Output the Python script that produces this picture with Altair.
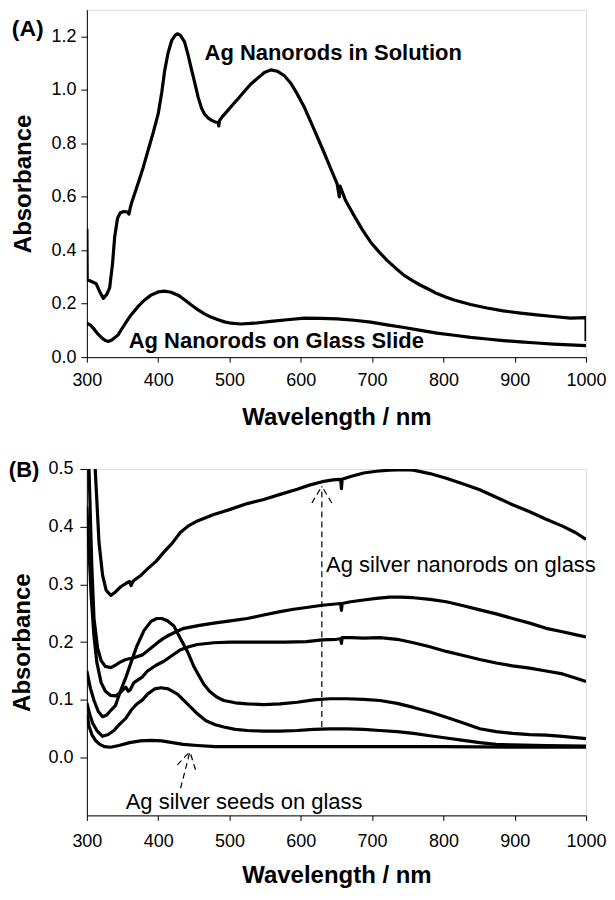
import altair as alt
import pandas as pd

FONT = "Liberation Sans"

# ---------------- Panel A data ----------------
sol_nm = [300, 300.5, 305, 313, 318, 323, 328, 332, 336, 339, 343, 347, 352, 357, 359, 361, 363, 368, 372,
          379, 386, 393, 400, 405, 409, 414, 419, 424, 427, 431, 437, 442, 446, 451, 456, 461, 465, 470,
          475, 480, 484, 485, 486, 490, 495, 503, 512, 521, 530, 540, 549, 558, 567, 577, 586, 595, 605,
          614, 623, 633, 642, 651, 654, 655, 663, 675, 686, 698, 710, 721, 733, 745, 756, 768, 780, 791,
          803, 815, 838, 861, 884, 908, 931, 954, 978, 990, 998, 1000, 1000]
sol_abs = [0.48, 0.29, 0.285, 0.275, 0.245, 0.22, 0.235, 0.26, 0.35, 0.45, 0.52, 0.54, 0.545, 0.543, 0.535,
           0.56, 0.58, 0.62, 0.652, 0.71, 0.775, 0.84, 0.91, 0.99, 1.07, 1.14, 1.185, 1.205, 1.21, 1.205,
           1.18, 1.13, 1.084, 1.03, 0.973, 0.93, 0.91, 0.895, 0.886, 0.88, 0.878, 0.865, 0.885, 0.9, 0.915,
           0.94, 0.967, 0.995, 1.022, 1.045, 1.065, 1.075, 1.07, 1.053, 1.025, 0.985, 0.935, 0.88, 0.825,
           0.763, 0.705, 0.648, 0.60, 0.64, 0.585, 0.528, 0.478, 0.43, 0.393, 0.362, 0.333, 0.306, 0.287,
           0.269, 0.253, 0.238, 0.225, 0.214, 0.197, 0.184, 0.173, 0.165, 0.158, 0.152, 0.146, 0.147,
           0.148, 0.148, 0.06]

glass_nm = [300, 306, 311, 316, 321, 326, 330, 335, 340, 344, 350, 356, 362, 372, 381, 390, 400, 409, 418,
            428, 437, 446, 456, 465, 474, 484, 493, 502, 516, 535, 558, 581, 605, 628, 651, 675, 698, 721,
            745, 768, 791, 815, 838, 861, 884, 908, 931, 954, 977, 1000]
glass_abs = [0.127, 0.118, 0.102, 0.085, 0.072, 0.062, 0.059, 0.064, 0.075, 0.084, 0.11, 0.135, 0.158,
             0.19, 0.214, 0.232, 0.244, 0.247, 0.243, 0.232, 0.215, 0.196, 0.177, 0.162, 0.15, 0.14, 0.132,
             0.127, 0.124, 0.127, 0.134, 0.14, 0.146, 0.145, 0.143, 0.138, 0.131, 0.121, 0.111, 0.1, 0.09,
             0.082, 0.074, 0.068, 0.062, 0.057, 0.053, 0.049, 0.046, 0.043]

# ---------------- Panel B data ----------------
b1_nm = [306, 311.7, 317, 322, 327, 333.6, 340, 347.5, 355, 360, 362, 365, 375, 385, 397, 408, 420, 431, 443,
         455, 478, 501, 525, 548, 571, 595, 612, 630, 645, 656, 657, 658, 670, 688, 706, 725, 745, 758, 781,
         804, 828, 851, 874, 897, 921, 944, 967, 985, 1000]
b1_abs = [0.68, 0.5, 0.373, 0.316, 0.29, 0.281, 0.287, 0.296, 0.302, 0.305, 0.298, 0.306, 0.315, 0.327,
          0.34, 0.356, 0.372, 0.39, 0.402, 0.41, 0.421, 0.43, 0.44, 0.447, 0.456, 0.465, 0.472, 0.478, 0.481,
          0.482, 0.466, 0.482, 0.487, 0.493, 0.496, 0.498, 0.499, 0.498, 0.492, 0.484, 0.474, 0.464, 0.451,
          0.438, 0.426, 0.413, 0.401, 0.39, 0.378]

b2_nm = [300, 303, 307, 310, 315, 320, 326, 333.6, 340, 346, 354.5, 366, 378, 390, 400, 408, 415, 425, 436,
         458, 478, 501, 525, 548, 571, 590, 608, 630, 656, 657, 658, 670, 688, 706, 725, 740, 758, 781, 804,
         828, 851, 874, 897, 921, 944, 967, 985, 1000]
b2_abs = [0.62, 0.5, 0.33, 0.241, 0.19, 0.168, 0.158, 0.156, 0.16, 0.165, 0.17, 0.173, 0.178, 0.19, 0.2,
          0.207, 0.212, 0.218, 0.224, 0.229, 0.233, 0.237, 0.241, 0.247, 0.253, 0.257, 0.26, 0.264, 0.267,
          0.255, 0.267, 0.27, 0.273, 0.276, 0.278, 0.278, 0.277, 0.274, 0.27, 0.263, 0.256, 0.249, 0.241,
          0.233, 0.224, 0.218, 0.213, 0.209]

b3_nm = [300, 303, 306, 310, 314, 320, 326, 333, 340.6, 347, 354.5, 358, 361, 366, 378, 385, 397, 408, 415,
         423, 431.5, 443, 455, 478, 501, 525, 548, 578, 608, 630, 650, 656, 657, 658, 671, 688, 711, 735,
         758, 781, 804, 828, 851, 874, 897, 921, 944, 967, 985, 1000]
b3_abs = [0.435, 0.36, 0.28, 0.21, 0.165, 0.13, 0.115, 0.108, 0.107, 0.113, 0.122, 0.115, 0.118, 0.13,
          0.14, 0.15, 0.16, 0.167, 0.173, 0.18, 0.187, 0.192, 0.196, 0.199, 0.2, 0.2, 0.2, 0.2, 0.201,
          0.204, 0.205, 0.206, 0.198, 0.208, 0.208, 0.207, 0.208, 0.205, 0.199, 0.192, 0.184, 0.177, 0.17,
          0.164, 0.159, 0.155, 0.15, 0.145, 0.138, 0.132]

b4_nm = [300, 305, 310, 316, 322, 328, 333.6, 340, 347, 355, 362, 370, 380, 390, 398, 405, 413, 422, 431,
         441, 450, 458, 464, 472, 482, 492, 508, 525, 548, 571, 595, 618, 641, 665, 688, 711, 735, 758, 781,
         804, 828, 851, 874, 897, 921, 944, 967, 1000]
b4_abs = [0.15, 0.12, 0.099, 0.08, 0.071, 0.074, 0.082, 0.09, 0.115, 0.14, 0.165, 0.193, 0.22, 0.236,
          0.241, 0.241, 0.237, 0.228, 0.207, 0.184, 0.158, 0.14, 0.127, 0.115, 0.105, 0.099, 0.095, 0.093,
          0.092, 0.093, 0.096, 0.1, 0.102, 0.102, 0.101, 0.099, 0.094, 0.087, 0.079, 0.07, 0.06, 0.05,
          0.045, 0.042, 0.04, 0.039, 0.037, 0.033]

b5_nm = [300, 304, 308, 314, 322, 330, 338, 346, 354.5, 362, 370, 378, 385, 395, 404, 414, 427, 441, 455,
         467, 480, 492, 508, 525, 548, 571, 595, 618, 641, 665, 688, 711, 735, 758, 781, 804, 828, 851, 874,
         897, 944, 1000]
b5_abs = [0.095, 0.075, 0.06, 0.047, 0.037, 0.04, 0.047, 0.058, 0.068, 0.082, 0.093, 0.1, 0.11, 0.119,
          0.121, 0.119, 0.11, 0.093, 0.076, 0.064, 0.057, 0.053, 0.049, 0.047, 0.046, 0.046, 0.047, 0.049,
          0.05, 0.05, 0.049, 0.047, 0.045, 0.042, 0.038, 0.034, 0.03, 0.026, 0.023, 0.022, 0.021, 0.02]

b6_nm = [300, 303, 307, 312, 318, 325, 333, 345, 360, 375, 390, 405, 420, 435, 455, 480, 520, 600, 700, 800,
         900, 1000]
b6_abs = [0.075, 0.055, 0.04, 0.03, 0.023, 0.019, 0.018, 0.021, 0.026, 0.029, 0.03, 0.029, 0.026, 0.023,
          0.021, 0.019, 0.019, 0.019, 0.019, 0.019, 0.018, 0.018]

# annotation arrows (dashed) in panel B: [x, y, x2, y2]
arrow_x = [629.5, 615.5, 643.5, 431.4, 426.8, 452.4]
arrow_y = [0.053, 0.441, 0.441, -0.053, -0.0125, -0.021]
arrow_x2 = [629.5, 629.5, 629.5, 444.5, 444.5, 444.5]
arrow_y2 = [0.47, 0.47, 0.47, 0.0103, 0.0103, 0.0103]

# text labels
a_labels = ["Ag Nanorods in Solution", "Ag Nanorods on Glass Slide"]
a_label_x = [465, 358.7]
a_label_y = [1.111, 0.033]
b_labels = ["Ag silver nanorods on glass", "Ag silver seeds on glass"]
b_label_x = [635.5, 354.5]
b_label_y = [0.321, -0.089]

x_ticks = [300, 400, 500, 600, 700, 800, 900, 1000]
a_y_ticks = [0.0, 0.2, 0.4, 0.6, 0.8, 1.0, 1.2]
b_y_ticks = [0.0, 0.1, 0.2, 0.3, 0.4, 0.5]


def long_df(pairs):
    rows = []
    for name, xs, ys in pairs:
        for i, (x, y) in enumerate(zip(xs, ys)):
            rows.append({"series": name, "idx": i, "x": x, "y": y})
    return pd.DataFrame(rows)


dfA = long_df([("solution", sol_nm, sol_abs), ("glass", glass_nm, glass_abs)])
dfB = long_df([("b1", b1_nm, b1_abs), ("b2", b2_nm, b2_abs), ("b3", b3_nm, b3_abs),
               ("b4", b4_nm, b4_abs), ("b5", b5_nm, b5_abs), ("b6", b6_nm, b6_abs)])
dfArrow = pd.DataFrame({"x": arrow_x, "y": arrow_y, "x2": arrow_x2, "y2": arrow_y2})
dfTextA = pd.DataFrame({"x": a_label_x, "y": a_label_y, "label": a_labels})
dfTextB = pd.DataFrame({"x": b_label_x, "y": b_label_y, "label": b_labels})
dfTagA = pd.DataFrame({"x": [194.7], "y": [1.2], "label": ["(A)"]})
dfTagB = pd.DataFrame({"x": [190.6], "y": [0.486], "label": ["(B)"]})

WA = 500
WB = 500
HA = 348
HB = 347

xscale = alt.Scale(domain=[300, 1000], nice=False, zero=False)
yscaleA = alt.Scale(domain=[0, 1.3], nice=False, zero=False)
yscaleB = alt.Scale(domain=[-0.1, 0.5], nice=False, zero=False)


def x_axis(label_pad, title_y):
    return alt.Axis(values=x_ticks, format="d", title="Wavelength / nm", grid=False,
                    tickSize=5, labelPadding=label_pad, labelFontSize=18, labelFont=FONT,
                    labelFlush=False, labelOverlap=False,
                    titleFont=FONT, titleFontSize=24, titleFontWeight="bold",
                    titleY=title_y, titleBaseline="middle",
                    domainColor="black", tickColor="black", labelColor="black", titleColor="black")


def y_axis(values, tick, label_pad, title_x):
    return alt.Axis(values=values, format=".1f", title="Absorbance", grid=False,
                    tickSize=tick, labelPadding=label_pad, labelFontSize=18, labelFont=FONT,
                    labelFlush=False,
                    titleFont=FONT, titleFontSize=24, titleFontWeight="bold",
                    titleX=title_x, titleBaseline="middle", titleAngle=270,
                    domainColor="black", tickColor="black", labelColor="black", titleColor="black")


XA = alt.X("x:Q", scale=xscale, axis=x_axis(9, 60))
YA = alt.Y("y:Q", scale=yscaleA, axis=y_axis(a_y_ticks, 6, 5, -63))
XB = alt.X("x:Q", scale=xscale, axis=x_axis(12, 60))
YB = alt.Y("y:Q", scale=yscaleB, axis=y_axis(b_y_ticks, 7, 7, -64))

linesA = alt.Chart(dfA).mark_line(color="black", strokeWidth=3.2, clip=True, strokeJoin="round").encode(
    x=XA, y=YA, detail="series:N", order="idx:Q")
textA = alt.Chart(dfTextA).mark_text(align="left", baseline="alphabetic", font=FONT, fontSize=22,
                                     fontWeight="bold", color="black").encode(x=XA, y=YA, text="label:N")
tagA = alt.Chart(dfTagA).mark_text(align="left", baseline="alphabetic", font=FONT, fontSize=23,
                                   fontWeight="bold", color="black").encode(x=XA, y=YA, text="label:N")
panelA = alt.layer(linesA, textA, tagA).properties(width=WA, height=HA)

linesB = alt.Chart(dfB).mark_line(color="black", strokeWidth=3.2, clip=True, strokeJoin="round").encode(
    x=XB, y=YB, detail="series:N", order="idx:Q")
arrowsB = alt.Chart(dfArrow).mark_rule(color="black", strokeWidth=1.2, strokeDash=[6, 4]).encode(
    x=XB, y=YB, x2="x2:Q", y2="y2:Q")
textB = alt.Chart(dfTextB).mark_text(align="left", baseline="alphabetic", font=FONT, fontSize=22,
                                     color="black").encode(x=XB, y=YB, text="label:N")
tagB = alt.Chart(dfTagB).mark_text(align="left", baseline="alphabetic", font=FONT, fontSize=22,
                                   fontWeight="bold", color="black").encode(x=XB, y=YB, text="label:N")
panelB = alt.layer(linesB, arrowsB, textB, tagB).properties(width=WB, height=HB)

chart = alt.vconcat(panelA, panelB, spacing=28).properties(
    padding={"left": 0, "top": 0, "right": 0, "bottom": 0}
).configure_view(stroke="#222", strokeWidth=1).configure(background="white")

chart.save("out.html", embed_options={"renderer": "svg", "actions": False})
